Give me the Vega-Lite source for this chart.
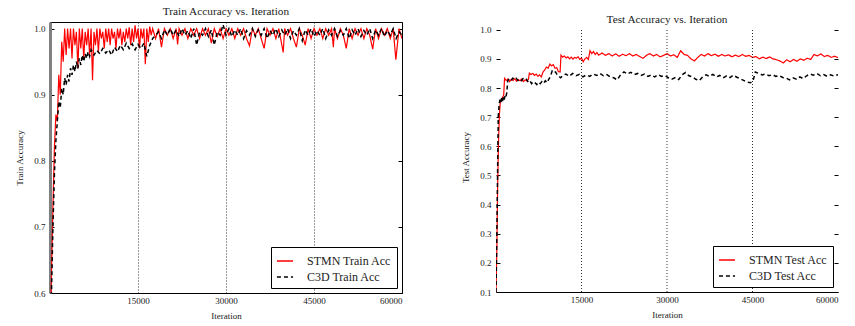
{
  "$schema": "https://vega.github.io/schema/vega-lite/v6.json",
  "background": "white",
  "padding": {"left": 15, "top": 5, "right": 5, "bottom": 4},
  "spacing": 58,
  "config": {
    "font": "Liberation Serif",
    "view": {"stroke": "#000", "strokeWidth": 1},
    "axis": {"labelFont": "Liberation Serif", "titleFont": "Liberation Serif", "labelFontSize": 9, "titleFontSize": 9, "titleFontWeight": "normal", "labelColor": "#222", "titleColor": "#222", "tickColor": "#000"},
    "title": {"font": "Liberation Serif", "fontSize": 11.3, "fontWeight": "normal", "color": "#222"},
    "legend": {"labelFont": "Liberation Serif", "labelFontSize": 12, "labelColor": "#222", "strokeColor": "#000", "fillColor": "#fff", "padding": 5, "cornerRadius": 0, "symbolType": "stroke", "symbolSize": 260, "symbolStrokeWidth": 1.5, "rowPadding": 1, "labelOffset": 13, "offset": 5, "orient": "bottom-right", "title": null}
  },
  "datasets": {
    "stmnTrain": [
      {"i":0,"v":0.5},{"i":250,"v":0.63},{"i":500,"v":0.73},{"i":750,"v":0.82},{"i":1000,"v":0.87},{"i":1250,"v":0.86},{"i":1500,"v":0.93},{"i":1750,"v":0.9},{"i":2000,"v":0.98},{"i":2250,"v":0.95},{"i":2500,"v":1.0},{"i":2750,"v":0.96},{"i":3000,"v":1.0},{"i":3250,"v":0.97},{"i":3500,"v":1.0},{"i":3750,"v":0.955},{"i":4000,"v":1.0},{"i":4250,"v":0.975},{"i":4500,"v":0.995},{"i":4750,"v":0.94},{"i":5000,"v":1.0},{"i":5250,"v":0.97},{"i":5500,"v":1.0},{"i":5750,"v":0.955},{"i":6000,"v":0.995},{"i":6250,"v":0.975},{"i":6500,"v":1.0},{"i":6750,"v":0.96},{"i":7000,"v":1.0},{"i":7250,"v":0.922},{"i":7500,"v":0.995},{"i":7750,"v":0.975},{"i":8000,"v":1.0},{"i":8250,"v":0.965},{"i":8500,"v":1.0},{"i":8750,"v":0.985},{"i":9000,"v":0.995},{"i":9250,"v":0.97},{"i":9500,"v":1.0},{"i":9750,"v":0.98},{"i":10000,"v":1.0},{"i":10250,"v":0.975},{"i":10500,"v":1.0},{"i":10750,"v":0.985},{"i":11000,"v":0.995},{"i":11250,"v":0.97},{"i":11500,"v":1.0},{"i":11750,"v":0.985},{"i":12000,"v":1.0},{"i":12250,"v":0.975},{"i":12500,"v":0.995},{"i":12750,"v":0.98},{"i":13000,"v":1.0},{"i":13250,"v":0.985},{"i":13500,"v":1.002},{"i":13750,"v":0.975},{"i":14000,"v":1.0},{"i":14250,"v":0.98},{"i":14500,"v":1.005},{"i":14750,"v":0.985},{"i":15000,"v":1.0},{"i":15250,"v":0.97},{"i":15500,"v":1.0},{"i":15750,"v":0.985},{"i":16000,"v":1.0},{"i":16250,"v":0.946},{"i":16500,"v":1.0},{"i":16750,"v":0.98},{"i":17000,"v":1.003},{"i":17250,"v":0.99},{"i":17500,"v":1.0},
      {"i":18000,"v":0.985},{"i":18500,"v":1.0},{"i":19000,"v":0.972},{"i":19500,"v":1.0},{"i":20000,"v":0.99},{"i":20500,"v":1.0},{"i":21000,"v":0.985},{"i":21500,"v":1.0},{"i":21750,"v":0.976},{"i":22000,"v":1.0},{"i":22500,"v":0.99},{"i":23000,"v":1.0},{"i":23500,"v":0.985},{"i":24000,"v":1.0},{"i":24500,"v":0.99},{"i":25000,"v":1.0},{"i":25500,"v":0.985},{"i":26000,"v":1.0},{"i":26500,"v":0.99},{"i":27000,"v":1.0},{"i":27500,"v":0.978},{"i":28000,"v":1.0},{"i":28500,"v":0.988},{"i":29000,"v":1.0},{"i":29500,"v":0.985},{"i":30000,"v":1.0},{"i":30500,"v":0.99},{"i":31000,"v":1.0},{"i":31500,"v":0.985},{"i":32000,"v":1.0},{"i":32500,"v":0.99},{"i":33000,"v":1.0},{"i":33500,"v":0.985},{"i":34000,"v":0.974},{"i":34500,"v":1.0},{"i":35000,"v":0.99},{"i":35500,"v":1.0},{"i":36000,"v":0.985},{"i":36500,"v":0.97},{"i":37000,"v":1.0},{"i":37500,"v":0.99},{"i":38000,"v":1.0},{"i":38500,"v":0.985},{"i":39000,"v":1.0},{"i":39750,"v":0.964},{"i":40000,"v":1.0},{"i":40500,"v":0.99},{"i":41000,"v":1.0},{"i":41500,"v":0.985},{"i":42000,"v":0.972},{"i":42500,"v":1.0},{"i":43000,"v":0.99},{"i":43500,"v":0.975},{"i":44000,"v":1.0},{"i":44500,"v":0.985},{"i":45000,"v":1.0},{"i":45500,"v":0.99},{"i":46000,"v":1.0},{"i":46500,"v":0.985},{"i":47000,"v":1.0},{"i":47500,"v":0.99},{"i":48000,"v":1.0},{"i":48300,"v":0.972},{"i":48500,"v":1.0},{"i":49000,"v":0.985},{"i":49500,"v":1.0},{"i":50000,"v":0.99},{"i":50500,"v":0.97},{"i":51000,"v":1.0},{"i":51500,"v":0.985},{"i":52000,"v":1.0},{"i":52500,"v":0.99},{"i":53000,"v":1.0},{"i":53500,"v":0.985},{"i":54000,"v":1.0},{"i":54500,"v":0.99},{"i":55000,"v":0.969},{"i":55500,"v":1.0},{"i":56000,"v":0.985},{"i":56500,"v":1.0},{"i":57000,"v":0.99},{"i":57500,"v":1.0},{"i":58000,"v":0.985},{"i":58500,"v":1.0},{"i":58950,"v":0.953},{"i":59500,"v":1.0},{"i":60000,"v":0.985}
    ],
    "c3dTrain": [
      {"i":0,"v":0.5},{"i":250,"v":0.6},{"i":500,"v":0.7},{"i":750,"v":0.78},{"i":1000,"v":0.83},{"i":1250,"v":0.86},{"i":1500,"v":0.89},{"i":1750,"v":0.88},{"i":2000,"v":0.91},{"i":2250,"v":0.9},{"i":2500,"v":0.925},{"i":2750,"v":0.915},{"i":3000,"v":0.93},{"i":3250,"v":0.92},{"i":3500,"v":0.94},{"i":3750,"v":0.93},{"i":4000,"v":0.945},{"i":4250,"v":0.935},{"i":4500,"v":0.95},{"i":4750,"v":0.94},{"i":5000,"v":0.955},{"i":5250,"v":0.945},{"i":5500,"v":0.96},{"i":5750,"v":0.95},{"i":6000,"v":0.962},{"i":6250,"v":0.955},{"i":6500,"v":0.965},{"i":6750,"v":0.958},{"i":7000,"v":0.968},{"i":7500,"v":0.96},{"i":8000,"v":0.967},{"i":8500,"v":0.962},{"i":9000,"v":0.97},{"i":9500,"v":0.963},{"i":10000,"v":0.968},{"i":10500,"v":0.96},{"i":11000,"v":0.972},{"i":11500,"v":0.965},{"i":12000,"v":0.975},{"i":12500,"v":0.968},{"i":13000,"v":0.978},{"i":13500,"v":0.97},{"i":14000,"v":0.977},{"i":14500,"v":0.968},{"i":15000,"v":0.976},{"i":15500,"v":0.97},{"i":16000,"v":0.978},{"i":16500,"v":0.958},{"i":17000,"v":0.975},{"i":17500,"v":0.985},{"i":18000,"v":0.99},{"i":18500,"v":0.995},{"i":19000,"v":0.985},{"i":19500,"v":0.998},{"i":20000,"v":0.99},{"i":20500,"v":1.0},{"i":21000,"v":0.99},{"i":21500,"v":0.998},{"i":22000,"v":0.988},{"i":22500,"v":1.0},{"i":23000,"v":0.99},{"i":23500,"v":0.997},{"i":24000,"v":0.985},{"i":24500,"v":1.0},{"i":25000,"v":0.975},{"i":25500,"v":0.995},{"i":26000,"v":0.99},{"i":26500,"v":1.0},{"i":27000,"v":0.988},{"i":27500,"v":0.998},{"i":28000,"v":0.975},{"i":28500,"v":0.995},{"i":29000,"v":0.99},{"i":29500,"v":1.006},{"i":30000,"v":0.99},{"i":30500,"v":1.0},{"i":31000,"v":0.988},{"i":31500,"v":0.998},{"i":32000,"v":0.99},{"i":32500,"v":1.0},{"i":33000,"v":0.985},{"i":33500,"v":0.997},{"i":34000,"v":0.99},{"i":34500,"v":1.0},{"i":35000,"v":0.988},{"i":35500,"v":0.998},{"i":36000,"v":0.99},{"i":36500,"v":1.0},{"i":37000,"v":0.985},{"i":37500,"v":0.997},{"i":38000,"v":0.99},{"i":38500,"v":1.0},{"i":39000,"v":0.988},{"i":39500,"v":0.998},{"i":40000,"v":0.99},{"i":40500,"v":1.0},{"i":41000,"v":0.985},{"i":41500,"v":0.997},{"i":42000,"v":0.99},{"i":42500,"v":1.0},{"i":43000,"v":0.982},{"i":43500,"v":0.998},{"i":44000,"v":0.99},{"i":44500,"v":1.0},{"i":45000,"v":0.988},{"i":45500,"v":0.997},{"i":46000,"v":0.99},{"i":46500,"v":1.0},{"i":47000,"v":0.985},{"i":47500,"v":0.998},{"i":48000,"v":0.99},{"i":48500,"v":1.0},{"i":49000,"v":0.988},{"i":49500,"v":0.997},{"i":50000,"v":0.99},{"i":50500,"v":1.0},{"i":51000,"v":0.985},{"i":51500,"v":0.998},{"i":52000,"v":0.99},{"i":52500,"v":1.0},{"i":53000,"v":0.988},{"i":53500,"v":0.997},{"i":54000,"v":0.99},{"i":54500,"v":1.0},{"i":55000,"v":0.985},{"i":55500,"v":0.998},{"i":56000,"v":0.99},{"i":56500,"v":1.0},{"i":57000,"v":0.988},{"i":57500,"v":0.997},{"i":58000,"v":0.99},{"i":58500,"v":1.0},{"i":59000,"v":0.985},{"i":59500,"v":0.995},{"i":60000,"v":0.99}
    ],
    "stmnTest": [
      {"i":0,"v":0.1},{"i":150,"v":0.25},{"i":300,"v":0.48},{"i":450,"v":0.62},{"i":600,"v":0.71},{"i":750,"v":0.75},{"i":900,"v":0.76},{"i":1050,"v":0.765},{"i":1200,"v":0.77},{"i":1350,"v":0.775},{"i":1500,"v":0.833},{"i":1800,"v":0.826},{"i":2100,"v":0.831},{"i":2400,"v":0.822},{"i":2700,"v":0.83},{"i":3000,"v":0.826},{"i":3300,"v":0.832},{"i":3600,"v":0.823},{"i":3900,"v":0.829},{"i":4200,"v":0.825},{"i":4500,"v":0.831},{"i":4800,"v":0.822},{"i":5100,"v":0.828},{"i":5400,"v":0.824},{"i":5700,"v":0.83},{"i":5850,"v":0.851},{"i":6150,"v":0.846},{"i":6450,"v":0.85},{"i":6750,"v":0.843},{"i":7050,"v":0.848},{"i":7350,"v":0.84},{"i":7650,"v":0.845},{"i":7950,"v":0.838},{"i":8250,"v":0.855},{"i":8550,"v":0.862},{"i":8850,"v":0.872},{"i":9150,"v":0.868},{"i":9450,"v":0.882},{"i":9750,"v":0.876},{"i":10050,"v":0.88},{"i":10350,"v":0.868},{"i":10650,"v":0.87},{"i":10950,"v":0.856},{"i":11250,"v":0.855},{"i":11400,"v":0.913},{"i":11700,"v":0.906},{"i":12000,"v":0.91},{"i":12300,"v":0.903},{"i":12600,"v":0.907},{"i":12900,"v":0.9},{"i":13200,"v":0.906},{"i":13500,"v":0.899},{"i":13800,"v":0.905},{"i":14100,"v":0.902},{"i":14400,"v":0.907},{"i":14700,"v":0.898},{"i":15000,"v":0.903},{"i":15300,"v":0.89},{"i":15600,"v":0.9},{"i":15900,"v":0.905},{"i":16200,"v":0.898},{"i":16500,"v":0.928},{"i":16800,"v":0.918},{"i":17100,"v":0.925},{"i":17400,"v":0.915},{"i":17700,"v":0.922},{"i":18000,"v":0.913},{"i":18600,"v":0.92},{"i":19200,"v":0.912},{"i":19800,"v":0.918},{"i":20400,"v":0.91},{"i":21000,"v":0.917},{"i":21600,"v":0.909},{"i":22200,"v":0.916},{"i":22800,"v":0.911},{"i":23400,"v":0.918},{"i":24000,"v":0.91},{"i":24600,"v":0.915},{"i":25200,"v":0.908},{"i":25800,"v":0.902},{"i":26400,"v":0.912},{"i":27000,"v":0.918},{"i":27600,"v":0.91},{"i":28200,"v":0.915},{"i":28800,"v":0.907},{"i":29400,"v":0.912},{"i":30000,"v":0.918},{"i":30600,"v":0.91},{"i":31200,"v":0.914},{"i":31800,"v":0.905},{"i":32400,"v":0.928},{"i":33000,"v":0.915},{"i":33600,"v":0.912},{"i":34200,"v":0.9},{"i":34800,"v":0.893},{"i":35400,"v":0.905},{"i":36000,"v":0.915},{"i":36600,"v":0.91},{"i":37200,"v":0.918},{"i":37800,"v":0.911},{"i":38400,"v":0.916},{"i":39000,"v":0.909},{"i":39600,"v":0.915},{"i":40200,"v":0.91},{"i":40800,"v":0.914},{"i":41400,"v":0.907},{"i":42000,"v":0.913},{"i":42600,"v":0.908},{"i":43200,"v":0.915},{"i":43800,"v":0.909},{"i":44400,"v":0.912},{"i":45000,"v":0.905},{"i":45600,"v":0.908},{"i":46200,"v":0.9},{"i":46800,"v":0.906},{"i":47400,"v":0.901},{"i":48000,"v":0.907},{"i":48600,"v":0.9},{"i":49200,"v":0.897},{"i":49800,"v":0.893},{"i":50400,"v":0.886},{"i":51000,"v":0.897},{"i":51600,"v":0.89},{"i":52200,"v":0.898},{"i":52800,"v":0.892},{"i":53400,"v":0.9},{"i":54000,"v":0.895},{"i":54600,"v":0.902},{"i":55200,"v":0.898},{"i":55800,"v":0.915},{"i":56400,"v":0.91},{"i":57000,"v":0.917},{"i":57600,"v":0.908},{"i":58200,"v":0.912},{"i":58800,"v":0.905},{"i":59400,"v":0.909},{"i":60000,"v":0.904}
    ],
    "c3dTest": [
      {"i":0,"v":0.1},{"i":150,"v":0.3},{"i":300,"v":0.55},{"i":400,"v":0.7},{"i":550,"v":0.745},{"i":700,"v":0.76},{"i":850,"v":0.75},{"i":1000,"v":0.765},{"i":1150,"v":0.755},{"i":1300,"v":0.77},{"i":1450,"v":0.76},{"i":1600,"v":0.775},{"i":1750,"v":0.77},{"i":1900,"v":0.785},{"i":2050,"v":0.825},{"i":2350,"v":0.832},{"i":2650,"v":0.826},{"i":2950,"v":0.834},{"i":3250,"v":0.828},{"i":3550,"v":0.833},{"i":3850,"v":0.826},{"i":4150,"v":0.831},{"i":4450,"v":0.825},{"i":4750,"v":0.832},{"i":5050,"v":0.827},{"i":5350,"v":0.83},{"i":5650,"v":0.82},{"i":5950,"v":0.825},{"i":6250,"v":0.815},{"i":6550,"v":0.822},{"i":6850,"v":0.818},{"i":7150,"v":0.812},{"i":7450,"v":0.82},{"i":7750,"v":0.815},{"i":8050,"v":0.822},{"i":8350,"v":0.816},{"i":8650,"v":0.825},{"i":8950,"v":0.818},{"i":9250,"v":0.83},{"i":9550,"v":0.84},{"i":9850,"v":0.858},{"i":10150,"v":0.852},{"i":10450,"v":0.855},{"i":10750,"v":0.845},{"i":11050,"v":0.84},{"i":11350,"v":0.835},{"i":11650,"v":0.842},{"i":12250,"v":0.848},{"i":12850,"v":0.84},{"i":13450,"v":0.85},{"i":14050,"v":0.842},{"i":14650,"v":0.847},{"i":15250,"v":0.838},{"i":15850,"v":0.845},{"i":16450,"v":0.84},{"i":17050,"v":0.848},{"i":17650,"v":0.843},{"i":18250,"v":0.85},{"i":18850,"v":0.842},{"i":19450,"v":0.846},{"i":20050,"v":0.838},{"i":20650,"v":0.835},{"i":21250,"v":0.828},{"i":21850,"v":0.845},{"i":22450,"v":0.855},{"i":23050,"v":0.848},{"i":23650,"v":0.854},{"i":24250,"v":0.846},{"i":24850,"v":0.85},{"i":25450,"v":0.843},{"i":26050,"v":0.848},{"i":26650,"v":0.84},{"i":27250,"v":0.845},{"i":27850,"v":0.838},{"i":28450,"v":0.846},{"i":29050,"v":0.84},{"i":29650,"v":0.843},{"i":30250,"v":0.835},{"i":30850,"v":0.83},{"i":31450,"v":0.836},{"i":32050,"v":0.829},{"i":32650,"v":0.845},{"i":33250,"v":0.853},{"i":33850,"v":0.842},{"i":34450,"v":0.838},{"i":35050,"v":0.83},{"i":35650,"v":0.825},{"i":36250,"v":0.838},{"i":36850,"v":0.845},{"i":37450,"v":0.84},{"i":38050,"v":0.847},{"i":38650,"v":0.838},{"i":39250,"v":0.843},{"i":39850,"v":0.835},{"i":40450,"v":0.842},{"i":41050,"v":0.836},{"i":41650,"v":0.844},{"i":42250,"v":0.837},{"i":42850,"v":0.832},{"i":43450,"v":0.826},{"i":44050,"v":0.82},{"i":44650,"v":0.818},{"i":45100,"v":0.825},{"i":45500,"v":0.855},{"i":46100,"v":0.85},{"i":46700,"v":0.845},{"i":47300,"v":0.848},{"i":47900,"v":0.842},{"i":48500,"v":0.846},{"i":49100,"v":0.84},{"i":49700,"v":0.843},{"i":50300,"v":0.836},{"i":50900,"v":0.834},{"i":51500,"v":0.828},{"i":52100,"v":0.835},{"i":52700,"v":0.83},{"i":53300,"v":0.838},{"i":53900,"v":0.832},{"i":54500,"v":0.842},{"i":55100,"v":0.848},{"i":55700,"v":0.844},{"i":56300,"v":0.85},{"i":56900,"v":0.842},{"i":57500,"v":0.846},{"i":58100,"v":0.84},{"i":58700,"v":0.845},{"i":59300,"v":0.841},{"i":60000,"v":0.846}
    ],
    "testGrid": [{"i":15000},{"i":30000},{"i":45000}]
  },
  "resolve": {"scale": {"color": "independent", "strokeDash": "independent"}, "legend": {"color": "independent", "strokeDash": "independent"}},
  "hconcat": [
    {
      "width": 352,
      "height": 271,
      "title": {"text": "Train Accuracy vs. Iteration", "offset": 5},
      "resolve": {"axis": {"y": "independent"}},
      "layer": [
        {
          "data": {"name": "stmnTrain"},
          "mark": {"type": "line", "strokeWidth": 1.2, "clip": true},
          "encoding": {
            "x": {"field": "i", "type": "quantitative", "scale": {"domain": [0, 60000], "nice": false}, "axis": {"values": [15000, 30000, 45000, 60000], "format": "d", "grid": true, "gridDash": [1, 2], "gridColor": "#000", "gridOpacity": 0.8, "ticks": false, "domain": false, "labelPadding": 3, "title": "Iteration", "titlePadding": 6}},
            "y": {"field": "v", "type": "quantitative", "scale": {"domain": [0.6, 1.01], "nice": false, "zero": false}, "axis": {"values": [0.6, 0.7, 0.8, 0.9, 1.0], "format": ".1f", "grid": false, "tickSize": -4, "domainColor": "#808080", "domainWidth": 3, "labelPadding": 9, "title": "Train Accuracy", "titlePadding": 9}},
            "color": {"datum": "STMN Train Acc", "type": "nominal", "scale": {"domain": ["STMN Train Acc", "C3D Train Acc"], "range": ["#ff0000", "#000000"]}},
            "strokeDash": {"datum": "STMN Train Acc", "type": "nominal", "scale": {"domain": ["STMN Train Acc", "C3D Train Acc"], "range": [[1, 0], [4, 3]]}}
          }
        },
        {
          "data": {"name": "c3dTrain"},
          "mark": {"type": "line", "strokeWidth": 1.5, "clip": true},
          "encoding": {
            "x": {"field": "i", "type": "quantitative"},
            "y": {"field": "v", "type": "quantitative", "axis": {"orient": "right", "values": [0.6, 0.7, 0.8, 0.9, 1.0], "labels": false, "domain": false, "tickSize": -4, "grid": false, "title": null}},
            "color": {"datum": "C3D Train Acc", "type": "nominal"},
            "strokeDash": {"datum": "C3D Train Acc", "type": "nominal"}
          }
        }
      ]
    },
    {
      "width": 342,
      "height": 270,
      "view": {"stroke": null},
      "title": {"text": "Test Accuracy vs. Iteration", "offset": -3.25},
      "resolve": {"axis": {"y": "independent"}},
      "layer": [
        {
          "data": {"name": "stmnTest"},
          "mark": {"type": "line", "strokeWidth": 1.2, "clip": true},
          "encoding": {
            "x": {"field": "i", "type": "quantitative", "scale": {"domain": [0, 60000], "nice": false}, "axis": {"values": [15000, 30000, 45000, 60000], "format": "d", "grid": false, "ticks": false, "domain": true, "domainColor": "#000", "domainWidth": 1, "labelPadding": 3, "title": "Iteration", "titlePadding": 6}},
            "y": {"field": "v", "type": "quantitative", "scale": {"domain": [0.1, 1.0265], "nice": false, "zero": false}, "axis": {"values": [0.1, 0.2, 0.3, 0.4, 0.5, 0.6, 0.7, 0.8, 0.9, 1.0], "format": ".1f", "grid": false, "tickSize": -4, "domain": false, "labelPadding": 9, "title": "Test Accuracy", "titlePadding": 9}},
            "color": {"datum": "STMN Test Acc", "type": "nominal", "scale": {"domain": ["STMN Test Acc", "C3D Test Acc"], "range": ["#ff0000", "#000000"]}},
            "strokeDash": {"datum": "STMN Test Acc", "type": "nominal", "scale": {"domain": ["STMN Test Acc", "C3D Test Acc"], "range": [[1, 0], [4, 3]]}}
          }
        },
        {
          "data": {"name": "testGrid"},
          "mark": {"type": "rule", "color": "#000", "strokeWidth": 1, "strokeDash": [1, 2], "opacity": 0.8},
          "encoding": {
            "x": {"field": "i", "type": "quantitative"},
            "y": {"datum": 0.1, "type": "quantitative", "axis": null},
            "y2": {"datum": 1.0}
          }
        },
        {
          "mark": {"type": "rule", "color": "#000", "strokeWidth": 1},
          "encoding": {
            "y": {"datum": 1.0, "type": "quantitative", "axis": null}
          }
        },
        {
          "mark": {"type": "rule", "color": "#000", "strokeWidth": 1},
          "encoding": {
            "x": {"datum": 60000, "type": "quantitative"},
            "y": {"datum": 0.1, "type": "quantitative", "axis": null},
            "y2": {"datum": 1.0}
          }
        },
        {
          "data": {"name": "c3dTest"},
          "mark": {"type": "line", "strokeWidth": 1.5, "clip": true},
          "encoding": {
            "x": {"field": "i", "type": "quantitative"},
            "y": {"field": "v", "type": "quantitative", "axis": {"orient": "right", "values": [0.1, 0.2, 0.3, 0.4, 0.5, 0.6, 0.7, 0.8, 0.9, 1.0], "labels": false, "domain": false, "tickSize": -4, "grid": false, "title": null}},
            "color": {"datum": "C3D Test Acc", "type": "nominal"},
            "strokeDash": {"datum": "C3D Test Acc", "type": "nominal"}
          }
        },
        {
          "mark": {"type": "rule", "color": "#808080", "strokeWidth": 3},
          "encoding": {
            "x": {"datum": 0, "type": "quantitative"},
            "y": {"datum": 0.1, "type": "quantitative", "axis": null},
            "y2": {"datum": 1.0}
          }
        }
      ]
    }
  ]
}
